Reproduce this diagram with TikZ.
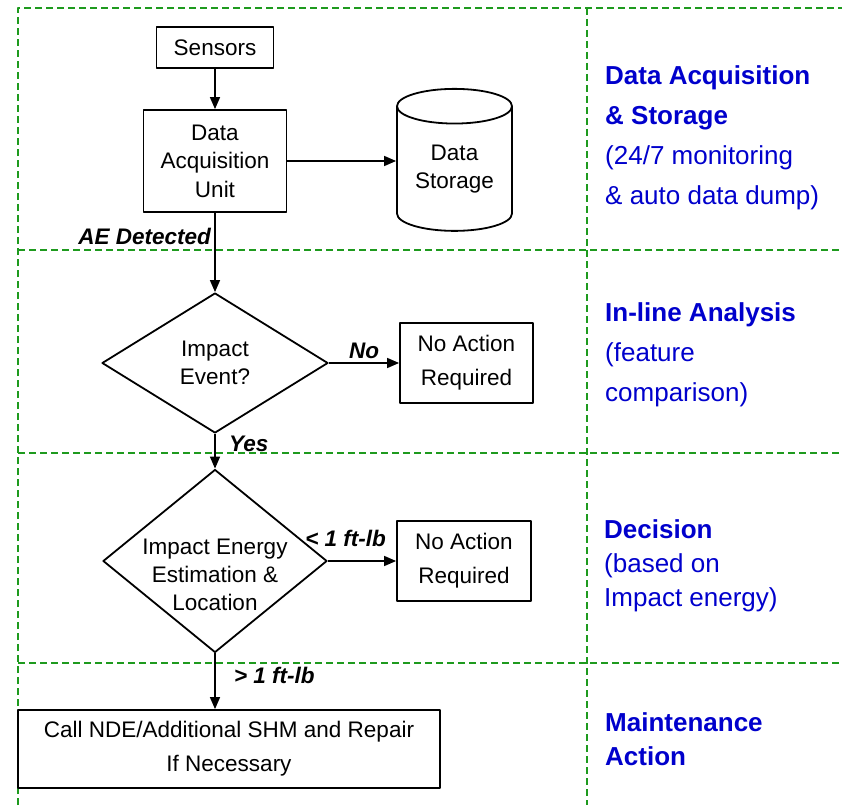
\documentclass[tikz,border=0pt]{standalone}
\usepackage{fontspec}
\setmainfont{Liberation Sans}
\usetikzlibrary{arrows.meta,shapes.geometric}
\definecolor{lanegreen}{HTML}{1E9A1E}
\definecolor{sideblue}{HTML}{0000CC}
\tikzset{
  every picture/.style={line join=round, >={Triangle[length=12pt,width=10pt]}},
  box/.style={draw, line width=1.8pt, align=center, inner sep=0pt, font=\fontsize{22.5}{34}\selectfont},
  decision/.style={draw, diamond, line width=1.8pt, inner sep=0pt, minimum width=226pt, minimum height=140pt},
  store/.style={draw, cylinder, shape border rotate=90, aspect=0.44, line width=1.8pt, align=center, inner sep=0pt, font=\fontsize{22.5}{28.5}\selectfont},
  lane/.style={lanegreen, line width=1.6pt, dash pattern=on 7pt off 4pt},
  side/.style={sideblue, anchor=west, align=left, inner sep=0pt, font=\fontsize{26}{40}\selectfont},
  tag/.style={font=\fontsize{22.5}{26}\selectfont\bfseries\itshape},
  flow/.style={->, line width=1.5pt},
}

\begin{document}
\begin{tikzpicture}[x=1pt,y=-1pt]
\useasboundingbox (0,0) rectangle (842,805);
% swim lanes
\draw[lane] (18,805) -- (18,8) -- (842,8);
\draw[lane] (587,8) -- (587,805);
\foreach \y in {250,453,663}
  \draw[lane] (18,\y) -- (842,\y);

\node[box, minimum width=117pt, minimum height=41pt] (sens) at (215,47.5) {Sensors};
\node[box, minimum width=143pt, minimum height=102pt, font=\fontsize{22.5}{28.5}\selectfont] (daq) at (215,161) {Data\\Acquisition\\Unit};
\node[store, minimum width=115pt, minimum height=142pt] (stor) at (454.5,169) {Data\\Storage};
\node[decision, label={[box, draw=none, font=\fontsize{22.5}{28}\selectfont]center:Impact\\Event?}] (imp) at (215,363) {};
\node[box, minimum width=133pt, minimum height=80pt] (noa) at (466.5,363) {No Action\\Required};
\node[decision, minimum width=224pt, minimum height=183pt,
  label={[box, draw=none, font=\fontsize{22.5}{28}\selectfont, yshift=-14pt]center:Impact Energy\\Estimation \&\\Location}] (est) at (215,561) {};
\node[box, minimum width=134pt, minimum height=80pt] (nob) at (464,561) {No Action\\Required};
\node[box, minimum width=422pt, minimum height=78pt] (ndi) at (229,749) {Call NDE/Additional SHM and Repair\\If Necessary};

\draw[flow] (sens) -- (daq);
\draw[flow] (daq.east) -- (daq.east -| stor.west);
\draw[flow] (daq) -- node[tag, left, pos=0.3] {AE Detected} (imp);
\draw[flow] (imp) -- node[tag, above] {No} (noa);
\draw[flow] (imp) -- node[tag, right=10pt, pos=0.3] {Yes} (est);
\draw[flow] (est) -- node[tag, above=10pt, pos=0.26] {< 1 ft-lb} (nob);
\draw[flow] (est.south) -- node[tag, right=15pt, pos=0.4] {> 1 ft-lb} (est.south |- ndi.north);

\node[side] (acq) at (605,138) {\textbf{Data Acquisition}\\\textbf{\& Storage}\\(24/7 monitoring\\\& auto data dump)};
\node[side] (inl) at (605,355) {\textbf{In-line Analysis}\\(feature\\comparison)};
\node[side, font=\fontsize{26}{34}\selectfont] (dec) at (604,566) {\textbf{Decision}\\(based on\\Impact energy)};
\node[side, font=\fontsize{26}{34}\selectfont] (mnt) at (605,739) {\textbf{Maintenance}\\\textbf{Action}};
\end{tikzpicture}
\end{document}
